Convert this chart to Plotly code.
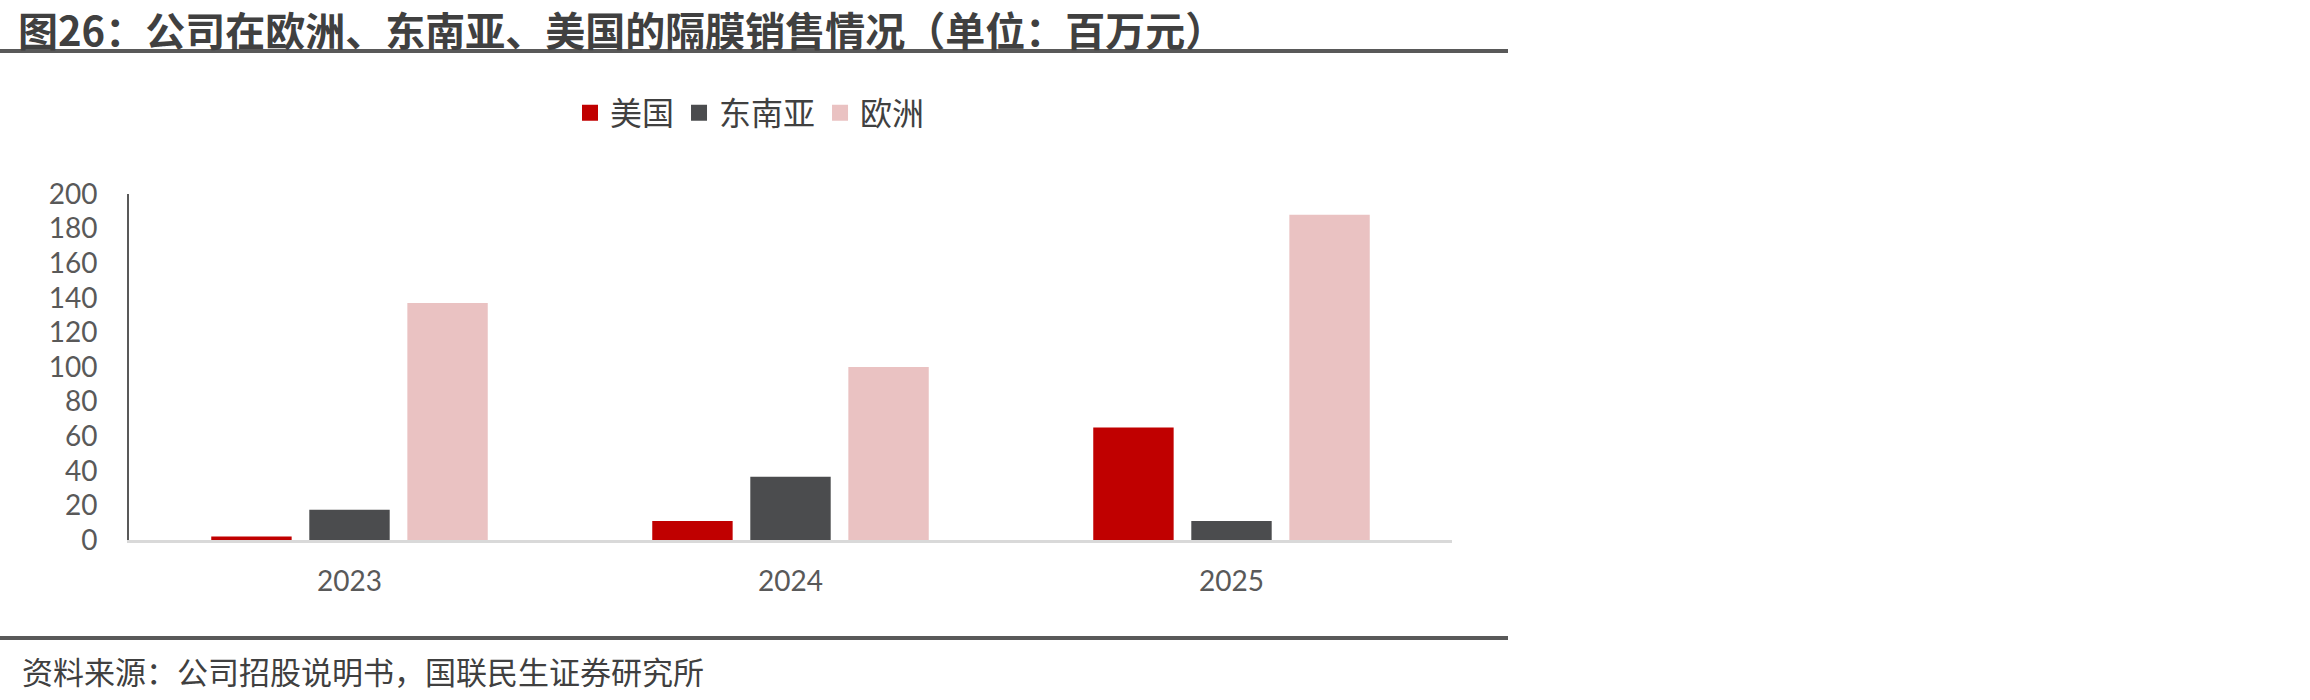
import plotly.graph_objects as go

years = ["2023", "2024", "2025"]
series_names = ["美国", "东南亚", "欧洲"]
usa = [2, 11, 65]
sea = [17.5, 36.5, 11]
europe = [137, 100, 188]
colors = ["#C00000", "#4B4C4E", "#EAC2C2"]
y_ticks = [0, 20, 40, 60, 80, 100, 120, 140, 160, 180, 200]

title_text = "图26：公司在欧洲、东南亚、美国的隔膜销售情况（单位：百万元）"
source_text = "资料来源：公司招股说明书，国联民生证券研究所"

CJK = "Noto Sans CJK SC"
NUM = "Lato, 'Noto Sans', sans-serif"

fig = go.Figure()
for name, vals, c in zip(series_names, [usa, sea, europe], colors):
    fig.add_trace(go.Bar(x=years, y=vals, name=name, legendgroup=name, showlegend=False,
                         marker=dict(color=c, line=dict(width=0))))
# legend entries with larger square swatches
for name, c in zip(series_names, colors):
    fig.add_trace(go.Scatter(x=[None], y=[None], mode="markers", name=name, legendgroup=name,
                             marker=dict(symbol="square", size=19, color=c), hoverinfo="skip"))

W, H = 2310, 700
L, R, T, B = 129, 1452, 194, 540
pw, ph = R - L, B - T

def px_x(px):
    return (px - L) / pw

def px_y(py):
    return (B - py) / ph

fig.update_layout(
    width=W, height=H,
    margin=dict(l=L, r=W - R, t=T, b=H - B, pad=0),
    paper_bgcolor="white", plot_bgcolor="white",
    barmode="group", bargap=0.333, bargroupgap=0.18,
    showlegend=True,
    legend=dict(orientation="h", x=px_x(570), y=px_y(113), xanchor="left", yanchor="middle",
                font=dict(family=CJK, size=32, color="#404040"),
                itemwidth=30, tracegroupgap=0, traceorder="normal",
                bgcolor="rgba(0,0,0,0)"),
)

fig.add_annotation(text="<b>" + title_text + "</b>", xref="paper", yref="paper",
                   x=px_x(16), y=px_y(29), xanchor="left", yanchor="middle",
                   showarrow=False, font=dict(family=CJK, size=40, color="#404040"))

fig.update_xaxes(
    type="category", showgrid=False, zeroline=False,
    showline=True, linecolor="#D9D9D9", linewidth=3,
    ticks="outside", ticklen=14, tickcolor="rgba(0,0,0,0)",
    tickfont=dict(family=NUM, size=28, color="#595959"),
)
fig.update_yaxes(
    range=[0, 200], tickvals=y_ticks, showgrid=False, zeroline=False,
    showline=True, linecolor="#595959", linewidth=2,
    ticks="outside", ticklen=24, tickcolor="rgba(0,0,0,0)",
    tickfont=dict(family=NUM, size=28, color="#595959"),
)

# title underline and footer line
for py in (51, 638):
    fig.add_shape(type="line", xref="paper", yref="paper",
                  x0=px_x(0), x1=px_x(1508), y0=px_y(py), y1=px_y(py),
                  line=dict(color="#595959", width=4))

fig.add_annotation(text=source_text, xref="paper", yref="paper",
                   x=px_x(20), y=px_y(670), xanchor="left", yanchor="middle",
                   showarrow=False, font=dict(family=CJK, size=31, color="#404040"))

fig.write_html("out.html")
